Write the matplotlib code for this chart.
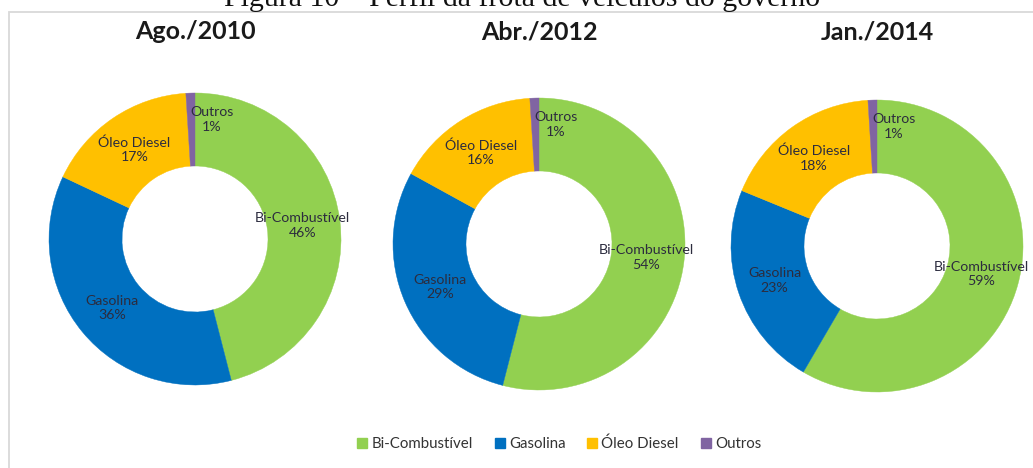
import matplotlib
matplotlib.use("Agg")
import matplotlib.pyplot as plt
from matplotlib.patches import Rectangle
from matplotlib.lines import Line2D
import numpy as np

# Fleet composition by fuel type (percent of vehicles)
periods = ["Ago./2010", "Abr./2012", "Jan./2014"]
fuels = ["Bi-Combustível", "Gasolina", "Óleo Diesel", "Outros"]
share_2010 = [46, 36, 17, 1]
share_2012 = [54, 29, 16, 1]
share_2014 = [59, 23, 18, 1]
shares = [share_2010, share_2012, share_2014]

colors = ["#92D050", "#0070C0", "#FFC000", "#8064A2"]
label_color = "#2c2c3e"
figure_title = "Figura 10 – Perfil da frota de veículos do governo"

W, H, DPI = 1033, 468, 100
fig = plt.figure(figsize=(W / DPI, H / DPI), dpi=DPI)
fig.patch.set_facecolor("white")

# light frame around the chart area (runs off the right/bottom edges)
frame = Rectangle((8.5 / W, -0.05), 1.1, (H - 11.5) / H + 0.05,
                  transform=fig.transFigure, fill=False,
                  edgecolor="#d9d9d9", linewidth=1.3)
fig.patches.append(frame)

# figure caption, partly cropped at the top
fig.text(0.505, 1 - 6 / H, figure_title, ha="center", va="baseline",
         family="Liberation Serif", fontsize=21.5, color="#111111")

# donut centres and radius in pixels
centers = [(195, 239), (539, 244), (877, 246)]
radius_px = 146

for (cx, cy), title, vals in zip(centers, periods, shares):
    ax = fig.add_axes([(cx - radius_px) / W, (H - cy - radius_px) / H,
                       2 * radius_px / W, 2 * radius_px / H])
    wedges, _ = ax.pie(vals, colors=colors, startangle=90, counterclock=False,
                       radius=1.0, wedgeprops=dict(width=0.5, linewidth=0.3,
                                                   edgecolor="none"))
    for w, c in zip(wedges, colors):
        w.set_edgecolor(c)
    ax.set_xlim(-1, 1)
    ax.set_ylim(-1, 1)
    ax.set_aspect("equal")
    ax.axis("off")

    for w, name, v in zip(wedges, fuels, vals):
        mid = np.deg2rad((w.theta1 + w.theta2) / 2)
        r = 0.74
        x, y = r * np.cos(mid), r * np.sin(mid)
        if name == "Outros":
            x, y = x + 0.14, y + 0.08
        ax.text(x, y, f"{name}\n{v}%", ha="center", va="center",
                family="Lato", fontsize=10.2, color=label_color,
                linespacing=1.25)

    fig.text(cx / W, 1 - 39 / H, title, ha="center", va="baseline",
             family="Lato", fontweight="bold", fontsize=18, color="#1a1a1a")

handles = [Line2D([], [], marker="s", linestyle="none", markersize=7,
                  markerfacecolor=c, markeredgecolor=c) for c in colors]
fig.legend(handles, fuels, loc="center", bbox_to_anchor=(558 / W, 1 - 444 / H),
           ncol=4, frameon=False, prop=dict(family="Lato", size=10.8),
           handletextpad=0.1, columnspacing=1.3, handlelength=1.0,
           labelcolor="#333333")

fig.savefig("out.png", dpi=DPI, facecolor="white")
